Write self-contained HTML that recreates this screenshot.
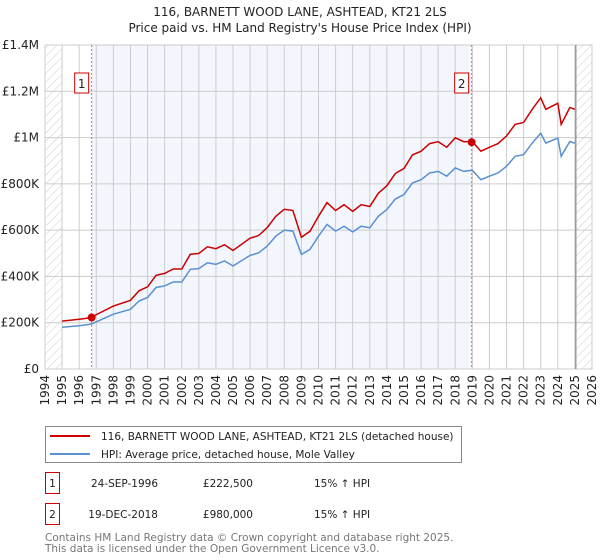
<!DOCTYPE html>
<html><head><meta charset="utf-8"><style>
body{margin:0;background:#fff;font-family:"DejaVu Sans","Liberation Sans",sans-serif;}
#wrap{position:relative;width:600px;height:560px;overflow:hidden;}
svg text{font-family:"DejaVu Sans","Liberation Sans",sans-serif;}
</style></head><body>
<div id="wrap">
<svg id="chart" width="600" height="560"></svg>
</div>
<script>
const years=[1995,1996,1996.7,1997,1998,1999,1999.5,2000,2000.5,2001,2001.5,2002,2002.5,2003,2003.5,2004,2004.5,2005,2006,2006.5,2007,2007.5,2008,2008.5,2009,2009.5,2010,2010.5,2011,2011.5,2012,2012.5,2013,2013.5,2014,2014.5,2015,2015.5,2016,2016.5,2017,2017.5,2018,2018.5,2019,2019.5,2020,2020.5,2021,2021.5,2022,2022.5,2023,2023.3,2024,2024.2,2024.7,2025];
const hpiValues=[180,187,194,204,237,258,294,309,352,359,376,376,431,434,459,452,467,445,491,502,531,574,600,596,495,517,574,625,596,617,592,617,610,660,689,735,754,804,818,847,854,833,869,854,859,818,833,847,876,919,926,976,1019,976,998,919,983,976];
const propValues=[207,215,222,235,272,297,338,355,405,413,432,432,496,499,528,520,537,512,565,577,611,660,690,685,569,595,660,719,685,710,681,710,702,759,792,845,867,925,941,974,982,958,999,982,983,941,958,974,1007,1057,1065,1122,1172,1122,1148,1057,1130,1122];
const sales=[{n:"1",year:1996.73,value:222.5},{n:"2",year:2018.96,value:980}];
const yTicks=[0,200,400,600,800,1000,1200,1400];
const yTickLabels=["£0","£200K","£400K","£600K","£800K","£1M","£1.2M","£1.4M"];
const xTicks=[1994,1995,1996,1997,1998,1999,2000,2001,2002,2003,2004,2005,2006,2007,2008,2009,2010,2011,2012,2013,2014,2015,2016,2017,2018,2019,2020,2021,2022,2023,2024,2025,2026];

const NS="http://www.w3.org/2000/svg";
const svg=document.getElementById('chart');
const L=45,R=592,T=45,B=369;
const x=y=>L+(y-1994)/(2026-1994)*(R-L);
const yv=v=>B-v/1400*(B-T);
function mk(tag,attrs,parent){const e=document.createElementNS(NS,tag);for(const k in attrs)e.setAttribute(k,attrs[k]);(parent||svg).appendChild(e);return e;}

const defs=mk('defs',{});
const pat=mk('pattern',{id:'hatch',width:6,height:6,patternUnits:'userSpaceOnUse',patternTransform:'rotate(45)'},defs);
mk('line',{x1:0,y1:0,x2:0,y2:6,stroke:'#ccc','stroke-width':1},pat);

let t=mk('text',{x:300,y:16,'text-anchor':'middle','font-size':12,fill:'#222'});t.textContent="116, BARNETT WOOD LANE, ASHTEAD, KT21 2LS";

t=mk('text',{x:300,y:32,'text-anchor':'middle','font-size':12,fill:'#222'});t.textContent="Price paid vs. HM Land Registry's House Price Index (HPI)";


let r=mk('rect',{x:x(1994),y:T,width:x(1995)-x(1994),height:B-T,fill:'url(#hatch)'});

r=mk('rect',{x:x(2025.05),y:T,width:R-x(2025.05),height:B-T,fill:'url(#hatch)'});

r=mk('rect',{x:x(sales[0].year),y:T,width:x(sales[1].year)-x(sales[0].year),height:B-T,fill:'#eef4fc',opacity:0.7});


const grid=mk('g',{});
xTicks.forEach(yr=>{mk('line',{x1:x(yr),y1:T,x2:x(yr),y2:B,stroke:'#ccc','stroke-width':1},grid);});
yTicks.forEach(v=>{mk('line',{x1:L,y1:yv(v),x2:R,y2:yv(v),stroke:'#ccc','stroke-width':1},grid);});
mk('rect',{x:L,y:T,width:R-L,height:B-T,fill:'none',stroke:'#ccc'},grid);
mk('line',{x1:x(2025.05),y1:T,x2:x(2025.05),y2:B,stroke:'#999','stroke-width':1.5},grid);

const yax=mk('g',{});
yTicks.forEach((v,i)=>{const e=mk('text',{x:L-6,y:yv(v)+4,'text-anchor':'end','font-size':12,fill:'#222'},yax);e.textContent=yTickLabels[i];});
const xax=mk('g',{});
xTicks.forEach(yr=>{const e=mk('text',{x:0,y:0,'text-anchor':'end','font-size':12,fill:'#222',transform:`translate(${x(yr)+4},${B+6}) rotate(-90)`},xax);e.textContent=yr;});

sales.forEach(s=>{
 const l=mk('line',{x1:x(s.year),y1:T,x2:x(s.year),y2:B,stroke:'#e06666','stroke-width':1,'stroke-dasharray':'2,2'});
 
 const g=mk('g',{});
 mk('rect',{x:x(s.year)-17,y:73,width:14,height:20,fill:'#fff',stroke:'#c00'},g);
 const e=mk('text',{x:x(s.year)-10,y:88,'text-anchor':'middle','font-size':12,fill:'#222'},g);e.textContent=s.n;
});

function path(vals){return vals.map((v,i)=>(i?'L':'M')+x(years[i]).toFixed(1)+','+yv(v).toFixed(1)).join(' ');}
let p=mk('path',{d:path(hpiValues),fill:'none',stroke:'#5b8fd4','stroke-width':1.5});

p=mk('path',{d:path(propValues),fill:'none',stroke:'#cc0000','stroke-width':1.5});

sales.forEach(s=>{const c=mk('circle',{cx:x(s.year),cy:yv(s.value),r:4,fill:'#cc0000'});
 });

const lg=mk('g',{});
mk('rect',{x:45.5,y:426.5,width:416,height:36,fill:'#fff',stroke:'#888'},lg);
mk('line',{x1:50,y1:436,x2:90,y2:436,stroke:'#cc0000','stroke-width':2},lg);
mk('line',{x1:50,y1:454,x2:90,y2:454,stroke:'#5b8fd4','stroke-width':2},lg);
t=mk('text',{x:101,y:440,'font-size':10.5,fill:'#222'},lg);t.textContent="116, BARNETT WOOD LANE, ASHTEAD, KT21 2LS (detached house)";

t=mk('text',{x:101,y:458,'font-size':10.5,fill:'#222'},lg);t.textContent="HPI: Average price, detached house, Mole Valley";


const rows=[["1","24-SEP-1996","£222,500","15% ↑ HPI",487],["2","19-DEC-2018","£980,000","15% ↑ HPI",518]];
rows.forEach(rw=>{
 const g=mk('g',{});
 mk('rect',{x:45.5,y:rw[4]-14.5,width:14,height:21,fill:'#fff',stroke:'#c00'},g);
 let e=mk('text',{x:52.5,y:rw[4],'text-anchor':'middle','font-size':10.5,fill:'#222'},g);e.textContent=rw[0];
 e=mk('text',{x:158,y:rw[4],'text-anchor':'end','font-size':10.5,fill:'#222'},g);e.textContent=rw[1];
 e=mk('text',{x:253,y:rw[4],'text-anchor':'end','font-size':10.5,fill:'#222'},g);e.textContent=rw[2];
 e=mk('text',{x:314,y:rw[4],'font-size':10.5,fill:'#222'},g);e.textContent=rw[3];
});
t=mk('text',{x:45,y:541,'font-size':10.5,fill:'#777'});t.textContent="Contains HM Land Registry data © Crown copyright and database right 2025.";

t=mk('text',{x:45,y:552,'font-size':10.5,fill:'#777'});t.textContent="This data is licensed under the Open Government Licence v3.0.";

</script>
</body></html>
